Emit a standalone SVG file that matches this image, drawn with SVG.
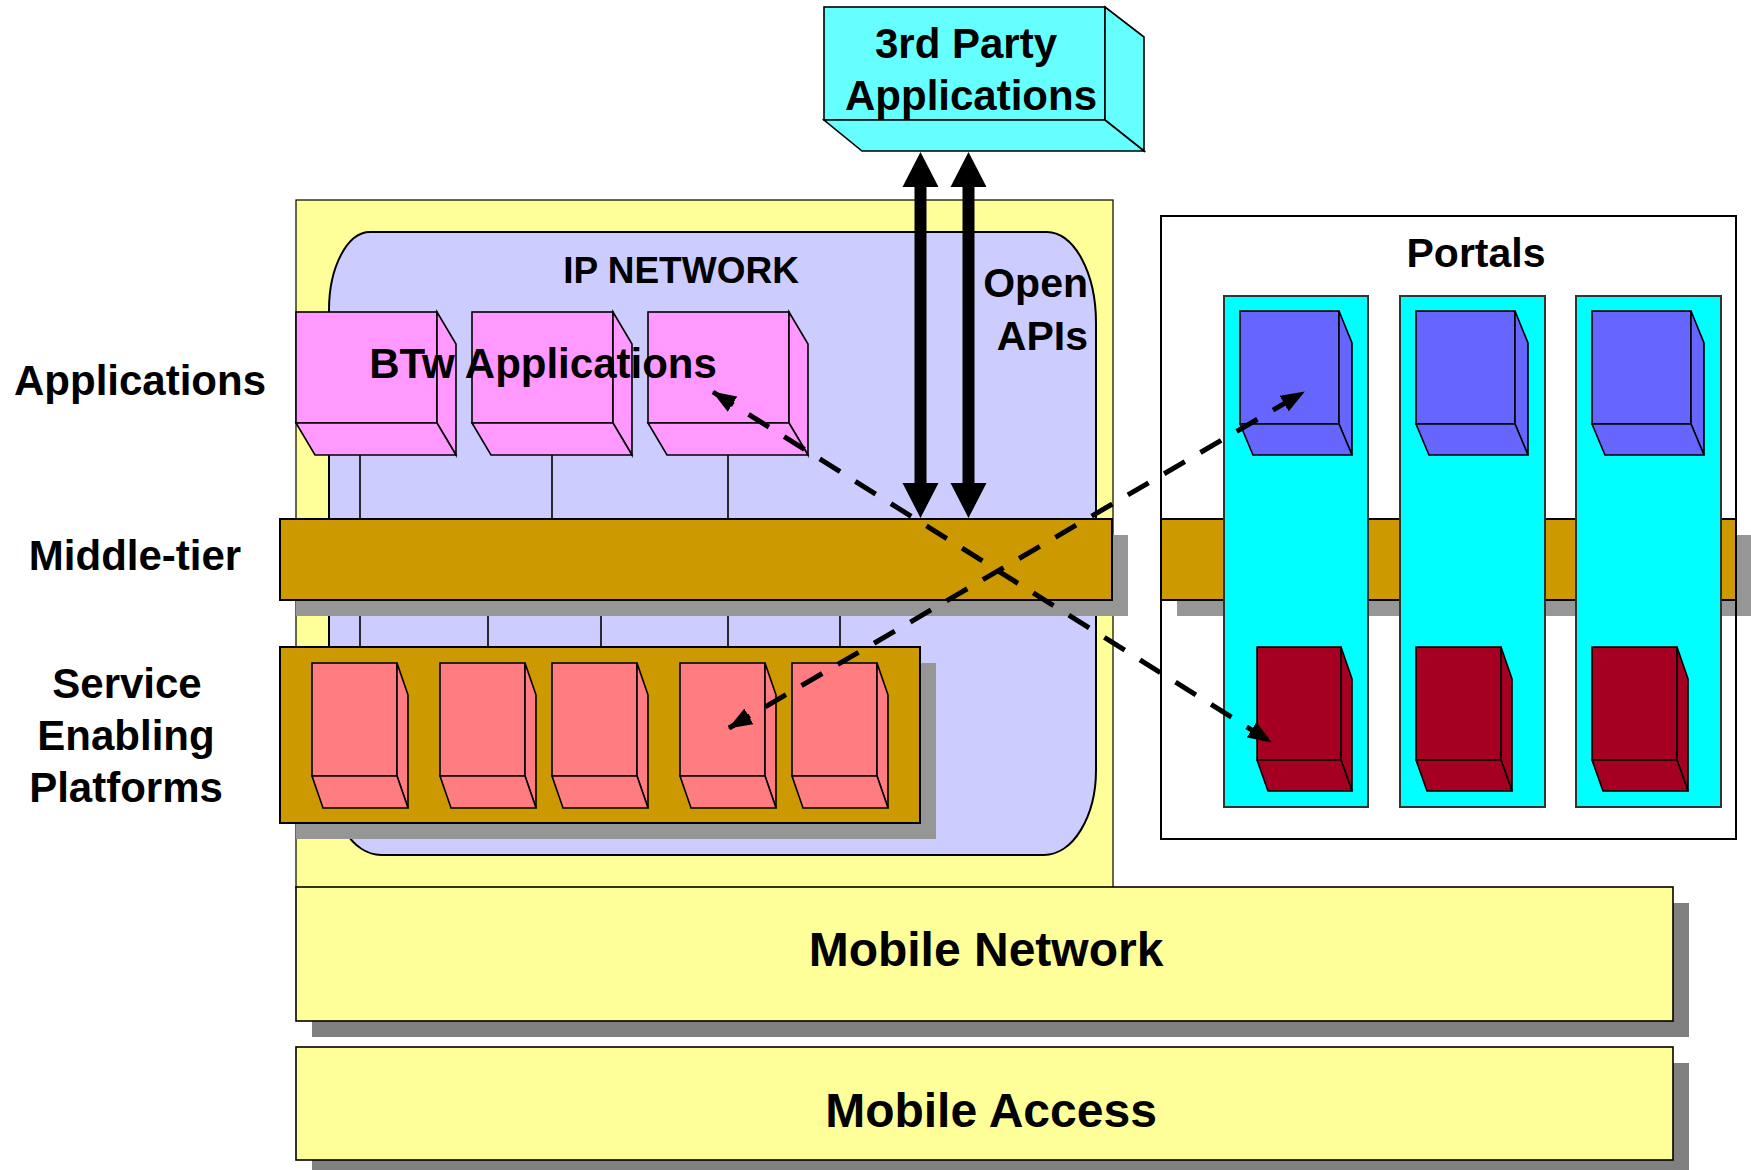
<svg xmlns="http://www.w3.org/2000/svg" width="1751" height="1170" viewBox="0 0 1751 1170">
<style>
text{font-family:"Liberation Sans",Arial,sans-serif;font-weight:bold;fill:#000}
.ol{stroke:#000;stroke-width:1.6}
.bar{fill:#CC9900;stroke:#000;stroke-width:2}
.shd{fill:#969696}
.pink{fill:#FF99FF}
.sep{fill:#FF7C80}
.blue{fill:#6666FF}
.red{fill:#A50021}
.tp{fill:#66FFFF}
.conn{stroke:#000;stroke-width:1.6}
.dash{stroke:#000;stroke-width:5;stroke-dasharray:24 18;fill:none}
</style>
<defs>
<marker id="ah" viewBox="0 0 24 18" refX="23" refY="9" markerWidth="24" markerHeight="18" markerUnits="userSpaceOnUse" orient="auto-start-reverse">
<path d="M0 0 L24 9 L0 18 Z" fill="#000"/>
</marker>
</defs>
<rect width="1751" height="1170" fill="#fff"/>

<g id="ip-panel">
<rect x="296" y="200" width="817" height="688" fill="#FFFF99" stroke="#000" stroke-width="1.2"/>
<path d="M370 232 H1047 A49 91 0 0 1 1096 323 V770 A52 85 0 0 1 1044 855 H381 A52 85 0 0 1 329 770 V310 A41 78 0 0 1 370 232 Z" fill="#CCCCFF" stroke="#000" stroke-width="2"/>
</g>

<g id="connectors-vertical">
<line class="conn" x1="360" y1="455" x2="360" y2="519"/>
<line class="conn" x1="552" y1="455" x2="552" y2="519"/>
<line class="conn" x1="728" y1="455" x2="728" y2="519"/>
<line class="conn" x1="360" y1="600" x2="360" y2="663"/>
<line class="conn" x1="488" y1="600" x2="488" y2="663"/>
<line class="conn" x1="601" y1="600" x2="601" y2="663"/>
<line class="conn" x1="728" y1="600" x2="728" y2="663"/>
<line class="conn" x1="840" y1="600" x2="840" y2="663"/>
</g>

<g id="app1" class="pink ol">
<rect x="296" y="312" width="141" height="111"/>
<polygon points="437,312 456,344 456,455 437,423"/>
<polygon points="296,423 437,423 456,455 315,455"/>
</g>
<g id="app2" class="pink ol">
<rect x="472" y="312" width="141" height="111"/>
<polygon points="613,312 632,344 632,455 613,423"/>
<polygon points="472,423 613,423 632,455 491,455"/>
</g>
<g id="app3" class="pink ol">
<rect x="648" y="312" width="141" height="111"/>
<polygon points="789,312 808,344 808,455 789,423"/>
<polygon points="648,423 789,423 808,455 667,455"/>
</g>

<g id="middle-tier-left">
<rect class="shd" x="296" y="535" width="832" height="81"/>
<rect class="bar" x="280" y="519" width="832" height="81"/>
</g>

<g id="sep-bar">
<rect class="shd" x="296" y="663" width="640" height="176"/>
<rect class="bar" x="280" y="647" width="640" height="176"/>
</g>

<g id="sep1" class="sep ol">
<rect x="312" y="663" width="85" height="113"/>
<polygon points="397,663 408,695 408,808 397,776"/>
<polygon points="312,776 397,776 408,808 323,808"/>
</g>
<g id="sep2" class="sep ol">
<rect x="440" y="663" width="85" height="113"/>
<polygon points="525,663 536,695 536,808 525,776"/>
<polygon points="440,776 525,776 536,808 451,808"/>
</g>
<g id="sep3" class="sep ol">
<rect x="552" y="663" width="85" height="113"/>
<polygon points="637,663 648,695 648,808 637,776"/>
<polygon points="552,776 637,776 648,808 563,808"/>
</g>
<g id="sep4" class="sep ol">
<rect x="680" y="663" width="85" height="113"/>
<polygon points="765,663 776,695 776,808 765,776"/>
<polygon points="680,776 765,776 776,808 691,808"/>
</g>
<g id="sep5" class="sep ol">
<rect x="792" y="663" width="85" height="113"/>
<polygon points="877,663 888,695 888,808 877,776"/>
<polygon points="792,776 877,776 888,808 803,808"/>
</g>

<g id="third-party" class="tp ol">
<rect x="824" y="7" width="281" height="113"/>
<polygon points="1105,7 1144,37 1144,151 1105,120"/>
<polygon points="824,120 1105,120 1144,151 862,151"/>
</g>

<g id="open-apis">
<polygon points="920.5,152 938.5,187 926.5,187 926.5,483 938.5,483 920.5,518 902.5,483 914.5,483 914.5,187 902.5,187" fill="#000"/>
<polygon points="968.5,152 986.5,187 974.5,187 974.5,483 986.5,483 968.5,518 950.5,483 962.5,483 962.5,187 950.5,187" fill="#000"/>
</g>

<g id="portals">
<rect x="1161" y="216" width="575" height="623" fill="#fff"/>
<rect class="shd" x="1177" y="535" width="590" height="81"/>
<rect class="bar" x="1161" y="519" width="575" height="81"/>
<rect x="1161" y="216" width="575" height="623" fill="none" stroke="#000" stroke-width="2"/>
<rect x="1224" y="296" width="144" height="511" fill="#00FFFF" stroke="#333" stroke-width="2"/>
<rect x="1400" y="296" width="145" height="511" fill="#00FFFF" stroke="#333" stroke-width="2"/>
<rect x="1576" y="296" width="145" height="511" fill="#00FFFF" stroke="#333" stroke-width="2"/>
</g>

<g id="portal-blue1" class="blue ol">
<rect x="1240" y="311" width="99" height="113"/>
<polygon points="1339,311 1352,343 1352,455 1339,424"/>
<polygon points="1240,424 1339,424 1352,455 1253,455"/>
</g>
<g id="portal-blue2" class="blue ol">
<rect x="1416" y="311" width="99" height="113"/>
<polygon points="1515,311 1528,343 1528,455 1515,424"/>
<polygon points="1416,424 1515,424 1528,455 1429,455"/>
</g>
<g id="portal-blue3" class="blue ol">
<rect x="1592" y="311" width="99" height="113"/>
<polygon points="1691,311 1704,343 1704,455 1691,424"/>
<polygon points="1592,424 1691,424 1704,455 1605,455"/>
</g>
<g id="portal-red1" class="red ol">
<rect x="1257" y="647" width="84" height="113"/>
<polygon points="1341,647 1352,679 1352,791 1341,760"/>
<polygon points="1257,760 1341,760 1352,791 1268,791"/>
</g>
<g id="portal-red2" class="red ol">
<rect x="1416" y="647" width="85" height="113"/>
<polygon points="1501,647 1512,679 1512,791 1501,760"/>
<polygon points="1416,760 1501,760 1512,791 1427,791"/>
</g>
<g id="portal-red3" class="red ol">
<rect x="1592" y="647" width="85" height="113"/>
<polygon points="1677,647 1688,679 1688,791 1677,760"/>
<polygon points="1592,760 1677,760 1688,791 1603,791"/>
</g>

<g id="mobile-network">
<rect x="312" y="903" width="1377" height="134" fill="#808080"/>
<rect x="296" y="887" width="1377" height="134" fill="#FFFF99" stroke="#000" stroke-width="1.6"/>
</g>
<g id="mobile-access">
<rect x="312" y="1063" width="1377" height="120" fill="#808080"/>
<rect x="296" y="1047" width="1377" height="113" fill="#FFFF99" stroke="#000" stroke-width="1.6"/>
</g>

<g id="connectors">
<line class="dash" x1="713" y1="392" x2="1271" y2="742" marker-start="url(#ah)" marker-end="url(#ah)"/>
<line class="dash" x1="729" y1="728" x2="1304" y2="392" marker-start="url(#ah)" marker-end="url(#ah)"/>
</g>

<g id="labels">
<text x="966" y="58" font-size="42" text-anchor="middle">3rd Party</text>
<text x="971" y="110" font-size="42" text-anchor="middle">Applications</text>
<text x="681" y="283" font-size="37" text-anchor="middle">IP NETWORK</text>
<text x="543" y="378" font-size="42" text-anchor="middle">BTw Applications</text>
<text x="1088" y="297" font-size="41" text-anchor="end">Open</text>
<text x="1088" y="350" font-size="41" text-anchor="end">APIs</text>
<text x="1476" y="267" font-size="41" text-anchor="middle">Portals</text>
<text x="140" y="395" font-size="42" text-anchor="middle">Applications</text>
<text x="135" y="570" font-size="42" text-anchor="middle">Middle-tier</text>
<text x="127" y="698" font-size="42" text-anchor="middle">Service</text>
<text x="126" y="750" font-size="42" text-anchor="middle">Enabling</text>
<text x="126" y="802" font-size="42" text-anchor="middle">Platforms</text>
<text x="986" y="966" font-size="48" text-anchor="middle">Mobile Network</text>
<text x="991" y="1127" font-size="48" text-anchor="middle">Mobile Access</text>
</g>
</svg>
